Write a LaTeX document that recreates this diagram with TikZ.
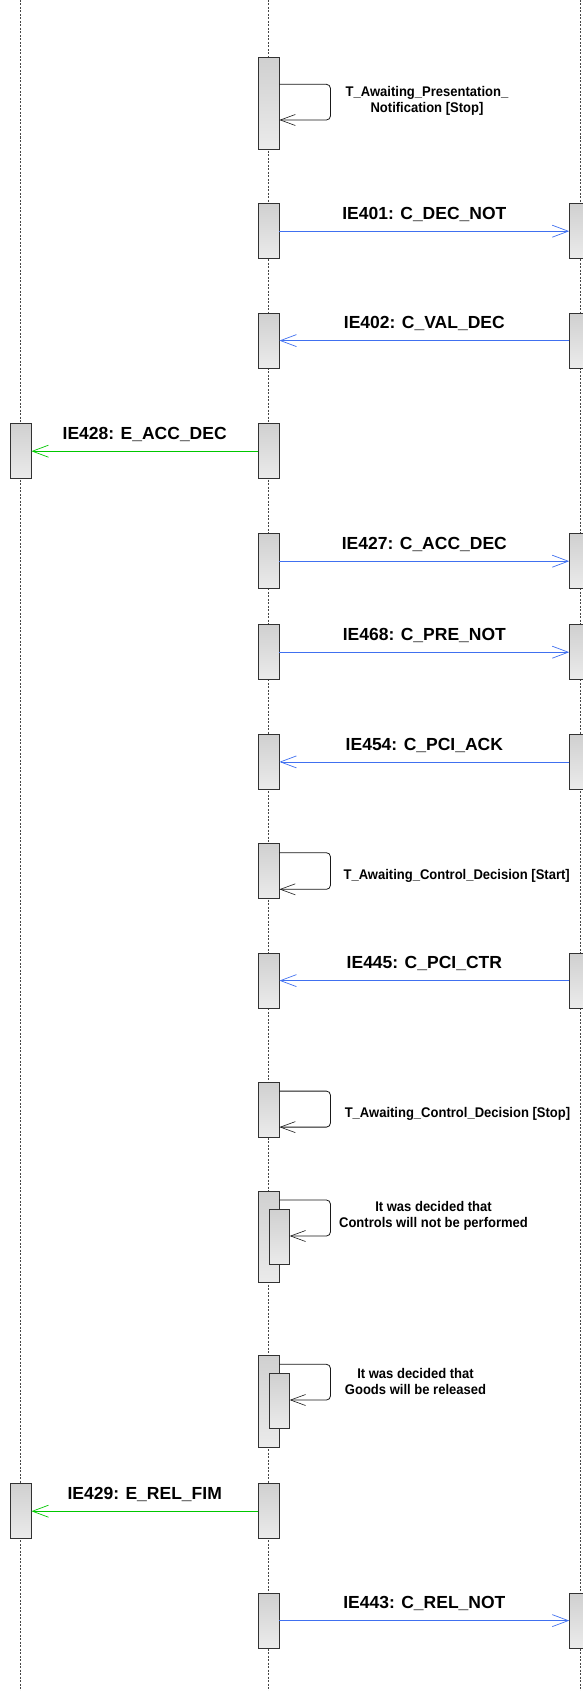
\documentclass[tikz,border=0pt]{standalone}
\usepackage{fontspec}
\setmainfont{Liberation Sans}
\newfontfamily\loopfont{Liberation Sans}[FakeStretch=0.93]
\usetikzlibrary{arrows.meta,calc}
\definecolor{msgblue}{RGB}{64,112,240}
\definecolor{msggreen}{RGB}{0,200,0}
\definecolor{boxedge}{RGB}{50,50,50}
\definecolor{loopcol}{RGB}{25,25,25}
\definecolor{boxtop}{RGB}{208,208,208}
\definecolor{boxbot}{RGB}{235,235,235}
\definecolor{lifegray}{RGB}{70,70,70}
\begin{document}
\begin{tikzpicture}[x=1pt,y=-1pt,
  lifeline/.style={lifegray,line width=0.6pt,dash pattern=on 2pt off 1.5pt},
  actbox/.style={draw=boxedge,line width=0.8pt,top color=boxtop,bottom color=boxbot,
    minimum width=20.7pt,minimum height=55pt,inner sep=0pt,anchor=north},
  longbox/.style={actbox,minimum height=91.5pt},
  innerbox/.style={actbox,minimum width=20pt},
  bluemsg/.style={msgblue,line width=0.8pt,-{Straight Barb[length=16pt,width=12pt,line width=0.7pt]}},
  greenmsg/.style={msggreen,line width=0.8pt,-{Straight Barb[length=16pt,width=12pt,line width=0.7pt]}},
  selfmsg/.style={loopcol,line width=0.8pt,rounded corners=4pt,-{Straight Barb[length=15pt,width=11pt,line width=0.6pt]}},
  lbl/.style={midway,anchor=base,yshift=11.7pt,inner sep=0pt,text=black,font=\bfseries\fontsize{17.5}{20}\selectfont},
  looplbl/.style={inner sep=0pt,align=center,text=black,font=\loopfont\bfseries\fontsize{14}{15.8}\selectfont}
]
\useasboundingbox (0,0) rectangle (583,1691);
\fill[white] (0,0) rectangle (583,1691);
% lifelines
\coordinate (lt) at (20.7,0);   \coordinate (lb) at (20.7,1691);
\coordinate (mt) at (268.7,0);  \coordinate (mb) at (268.7,1691);
\coordinate (rt) at (580,0);    \coordinate (rb) at (580,1691);
\draw[lifeline] (lt) -- (lb);
\draw[lifeline] (mt) -- (mb);
\draw[lifeline] (rt) -- (rb);

% middle activation boxes
\node[longbox] (m1) at (268.7,57.3) {};
\node[actbox] (m2) at (268.7,203.3) {};
\node[actbox] (m3) at (268.7,312.7) {};
\node[actbox] (m4) at (268.7,423.3) {};
\node[actbox] (m5) at (268.7,533.3) {};
\node[actbox] (m6) at (268.7,624.3) {};
\node[actbox] (m7) at (268.7,734) {};
\node[actbox] (m8) at (268.7,843.3) {};
\node[actbox] (m9) at (268.7,952.7) {};
\node[actbox] (m10) at (268.7,1081.7) {};
\node[longbox] (m11) at (268.7,1190.7) {};
\node[innerbox] (i11) at (279.3,1209.3) {};
\node[longbox] (m12) at (268.7,1355) {};
\node[innerbox] (i12) at (279.3,1373.3) {};
\node[actbox] (m13) at (268.7,1483.3) {};
\node[actbox] (m14) at (268.7,1592.7) {};

% right boxes
\node[actbox] (r2) at (580,203.3) {};
\node[actbox] (r3) at (580,312.7) {};
\node[actbox] (r5) at (580,533.3) {};
\node[actbox] (r6) at (580,624.3) {};
\node[actbox] (r7) at (580,734) {};
\node[actbox] (r9) at (580,952.7) {};
\node[actbox] (r14) at (580,1592.7) {};

% left boxes
\node[actbox] (l4) at (20.7,423.3) {};
\node[actbox] (l13) at (20.7,1483.3) {};

% messages
\draw[bluemsg] (m2.east) -- node[lbl]{IE401: C\_DEC\_NOT} (r2.west);
\draw[bluemsg] (r3.west) -- node[lbl]{IE402: C\_VAL\_DEC} (m3.east);
\draw[greenmsg] (m4.west) -- node[lbl]{IE428: E\_ACC\_DEC} (l4.east);
\draw[bluemsg] (m5.east) -- node[lbl]{IE427: C\_ACC\_DEC} (r5.west);
\draw[bluemsg] (m6.east) -- node[lbl]{IE468: C\_PRE\_NOT} (r6.west);
\draw[bluemsg] (r7.west) -- node[lbl]{IE454: C\_PCI\_ACK} (m7.east);
\draw[bluemsg] (r9.west) -- node[lbl]{IE445: C\_PCI\_CTR} (m9.east);
\draw[greenmsg] (m13.west) -- node[lbl]{IE429: E\_REL\_FIM} (l13.east);
\draw[bluemsg] (m14.east) -- node[lbl]{IE443: C\_REL\_NOT} (r14.west);

% self messages
\draw[selfmsg] ([yshift=-27pt]m1.north east) -- ++(51,0) -- ++(0,35.7) -- ([yshift=-62.7pt]m1.north east);
\node[looplbl] (t1) at (427,100.5) {T\_Awaiting\_Presentation\_\\Notification [Stop]};

\draw[selfmsg] ([yshift=-9.4pt]m8.north east) -- ++(51,0) -- ++(0,36.6) -- ([yshift=-46pt]m8.north east);
\node[looplbl] (t8) at (456.7,876) {T\_Awaiting\_Control\_Decision [Start]};

\draw[selfmsg] ([yshift=-9.4pt]m10.north east) -- ++(51,0) -- ++(0,36) -- ([yshift=-45.4pt]m10.north east);
\node[looplbl] (t10) at (457.5,1113.7) {T\_Awaiting\_Control\_Decision [Stop]};

\draw[selfmsg] ([yshift=-9.3pt]m11.north east) -- ++(51,0) -- ++(0,36) -- ([yshift=-26.7pt]i11.north east);
\node[looplbl] (t11) at (433.5,1215.5) {It was decided that\\Controls will not be performed};

\draw[selfmsg] ([yshift=-9.3pt]m12.north east) -- ++(51,0) -- ++(0,35.7) -- ([yshift=-26.7pt]i12.north east);
\node[looplbl] (t12) at (415.5,1381.3) {It was decided that\\Goods will be released};
\end{tikzpicture}
\end{document}
